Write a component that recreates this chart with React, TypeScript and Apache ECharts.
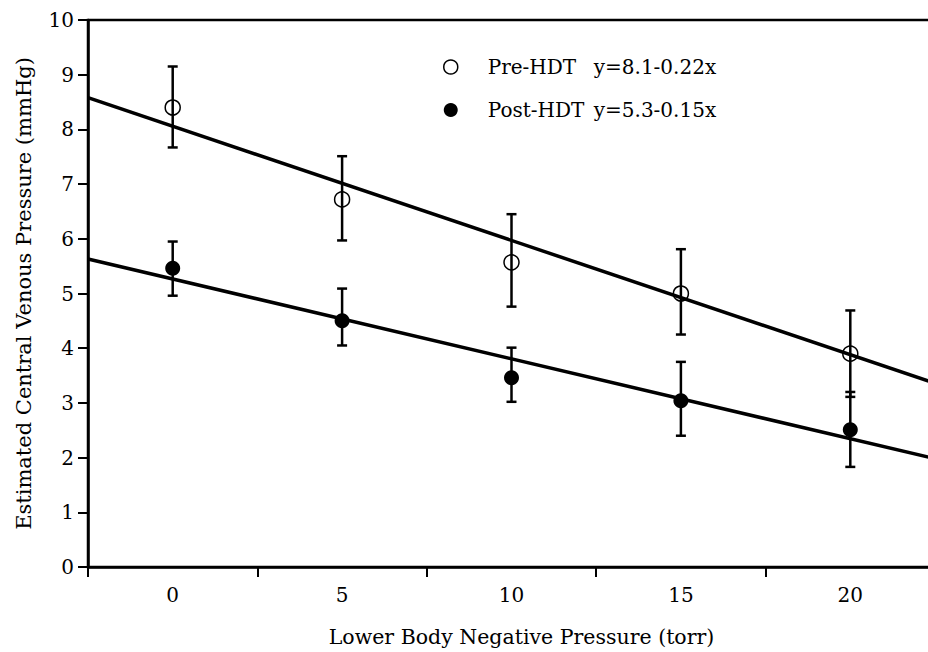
import React, { useEffect, useRef } from "react";
import * as echarts from "echarts";

const xValues = [0, 5, 10, 15, 20];
const preMean = [8.4, 6.72, 5.57, 5.0, 3.9];
const preLow = [7.67, 5.97, 4.76, 4.25, 3.11];
const preHigh = [9.15, 7.51, 6.45, 5.81, 4.69];
const postMean = [5.46, 4.5, 3.46, 3.04, 2.51];
const postLow = [4.96, 4.05, 3.02, 2.4, 1.83];
const postHigh = [5.95, 5.09, 4.01, 3.75, 3.2];
const preFitLine = [[-2.5, 8.58], [22.5, 3.36]];
const postFitLine = [[-2.5, 5.63], [22.5, 1.98]];
const seriesNames = ["Pre-HDT", "Post-HDT"];
const equations = ["y=8.1-0.22x", "y=5.3-0.15x"];
const xLabelValues = [0, 5, 10, 15, 20];

const FONT = "DejaVu Serif";
const CHART_W = 938;

function errorBarSeries(low: number[], high: number[]) {
  return {
    type: "custom",
    silent: true,
    z: 3,
    data: xValues.map((x, i) => [x, low[i], high[i]]),
    encode: { x: 0, y: [1, 2] },
    renderItem: (params: any, api: any) => {
      const x = api.value(0);
      const lo = api.coord([x, api.value(1)]);
      const hi = api.coord([x, api.value(2)]);
      const cap = 5;
      const st = { stroke: "#000", lineWidth: 2.5 };
      return {
        type: "group",
        children: [
          { type: "line", shape: { x1: lo[0], y1: lo[1], x2: hi[0], y2: hi[1] }, style: st },
          { type: "line", shape: { x1: lo[0] - cap, y1: lo[1], x2: lo[0] + cap, y2: lo[1] }, style: st },
          { type: "line", shape: { x1: hi[0] - cap, y1: hi[1], x2: hi[0] + cap, y2: hi[1] }, style: st },
        ],
      };
    },
  };
}

export default function App() {
  const ref = useRef<HTMLDivElement>(null);
  useEffect(() => {
    if (!ref.current) return;
    const chart = echarts.init(ref.current, undefined, { renderer: "svg" });
    const textBase = { fontFamily: FONT, color: "#000", fontSize: 20 };
    chart.setOption({
      animation: false,
      backgroundColor: "#fff",
      grid: {
        left: 88,
        right: 0,
        top: 20,
        bottom: 84,
        show: true,
        borderColor: "#000",
        borderWidth: 2.5,
        backgroundColor: "transparent",
      },
      legend: {
        orient: "vertical",
        left: 438,
        top: 52,
        itemWidth: 14,
        itemHeight: 14,
        itemGap: 23,
        selectedMode: false,
        data: [
          { name: seriesNames[0], icon: "circle", itemStyle: { color: "#fff", borderColor: "#000", borderWidth: 1.5 } },
          { name: seriesNames[1], icon: "circle", itemStyle: { color: "#000", borderColor: "#000", borderWidth: 0 } },
        ],
        formatter: (name: string) => {
          const i = seriesNames.indexOf(name);
          return `{sp| }{n|${name}}{e|${equations[i]}}`;
        },
        textStyle: {
          ...textBase,
          rich: {
            sp: { width: 25, fontSize: 20, fontFamily: FONT },
            n: { width: 106, fontSize: 20, fontFamily: FONT, color: "#000" },
            e: { fontSize: 20, fontFamily: FONT, color: "#000" },
          },
        },
      },
      xAxis: [
        {
          type: "value",
          min: -2.5,
          max: 22.5,
          interval: 5,
          position: "bottom",
          axisLine: { show: true, onZero: false, lineStyle: { color: "#000", width: 2.5 } },
          axisTick: { show: true, length: 10, lineStyle: { color: "#000", width: 2 } },
          axisLabel: { show: false },
          splitLine: { show: false },
        },
        {
          type: "value",
          min: -2.5,
          max: 22.5,
          interval: 2.5,
          position: "bottom",
          axisLine: { show: false, onZero: false },
          axisTick: { show: false },
          splitLine: { show: false },
          axisLabel: {
            ...textBase,
            margin: 18,
            formatter: (v: number) => (xLabelValues.includes(v) ? String(v) : ""),
          },
          name: "Lower Body Negative Pressure (torr)",
          nameLocation: "middle",
          nameGap: 59,
          nameTextStyle: { ...textBase, fontSize: 20.5, padding: [0, 0, 0, 20] },
        },
      ],
      yAxis: {
        type: "value",
        min: 0,
        max: 10,
        interval: 1,
        axisLine: { show: true, onZero: false, lineStyle: { color: "#000", width: 2.5 } },
        axisTick: { show: true, length: 10, lineStyle: { color: "#000", width: 2 } },
        axisLabel: { ...textBase, margin: 14 },
        splitLine: { show: false },
        name: "Estimated Central Venous Pressure (mmHg)",
        nameLocation: "middle",
        nameGap: 54,
        nameTextStyle: { ...textBase, fontSize: 21 },
      },
      series: [
        {
          type: "line",
          name: "preFit",
          data: preFitLine,
          symbol: "none",
          lineStyle: { color: "#000", width: 3.5 },
          z: 2,
          silent: true,
        },
        {
          type: "line",
          name: "postFit",
          data: postFitLine,
          symbol: "none",
          lineStyle: { color: "#000", width: 3.5 },
          z: 2,
          silent: true,
        },
        errorBarSeries(preLow, preHigh),
        errorBarSeries(postLow, postHigh),
        {
          type: "scatter",
          name: seriesNames[0],
          data: xValues.map((x, i) => [x, preMean[i]]),
          symbol: "circle",
          symbolSize: 15,
          itemStyle: { color: "rgba(255,255,255,0)", borderColor: "#000", borderWidth: 1.5, opacity: 1 },
          z: 4,
        },
        {
          type: "scatter",
          name: seriesNames[1],
          data: xValues.map((x, i) => [x, postMean[i]]),
          symbol: "circle",
          symbolSize: 15,
          itemStyle: { color: "#000", opacity: 1 },
          z: 4,
        },
      ],
    });
    return () => chart.dispose();
  }, []);
  return (
    <div
      style={{ position: "absolute", left: 0, top: 0, width: 928, height: 652, overflow: "hidden", background: "#fff" }}
    >
      <div ref={ref} style={{ width: CHART_W, height: 652 }} />
    </div>
  );
}
